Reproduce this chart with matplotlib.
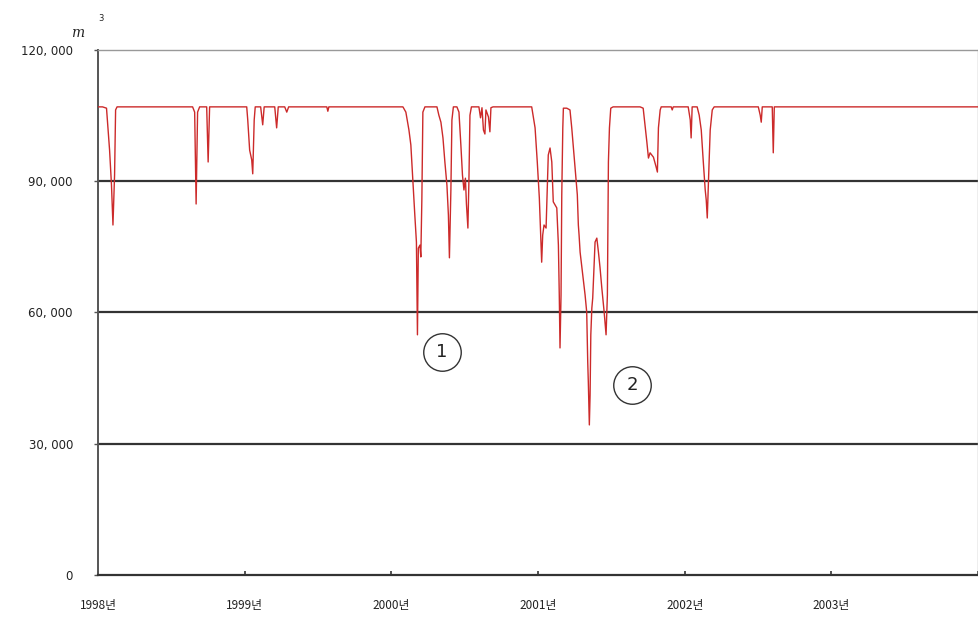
import matplotlib
matplotlib.use('Agg')
from matplotlib import pyplot as plt

plt.rcParams['font.family'] = ['Noto Sans CJK KR', 'DejaVu Sans']

# decimal year / storage volume (m3)
years = [
    1998.000, 1998.031, 1998.058, 1998.079, 1998.092, 1998.102, 1998.113, 1998.120, 1998.130,
    1998.645, 1998.659, 1998.669, 1998.679, 1998.693, 1998.741, 1998.751, 1998.761,
    1999.014, 1999.021, 1999.034, 1999.048, 1999.055, 1999.065, 1999.072,
    1999.109, 1999.123, 1999.133, 1999.205, 1999.218, 1999.229, 1999.273, 1999.287, 1999.300,
    1999.560, 1999.567, 1999.574,
    2000.079, 2000.099, 2000.120, 2000.133, 2000.147, 2000.160, 2000.171, 2000.178, 2000.184,
    2000.195, 2000.201, 2000.208, 2000.215, 2000.229,
    2000.311, 2000.324, 2000.338, 2000.352, 2000.365, 2000.379, 2000.389, 2000.396, 2000.406,
    2000.413, 2000.423, 2000.447, 2000.461, 2000.474, 2000.485, 2000.495, 2000.505, 2000.512,
    2000.522, 2000.529, 2000.536, 2000.546,
    2000.597, 2000.608, 2000.618, 2000.628, 2000.638, 2000.645, 2000.662, 2000.672, 2000.679,
    2000.693,
    2000.957, 2000.980, 2000.995, 2001.009, 2001.018, 2001.025, 2001.032, 2001.041, 2001.055,
    2001.070, 2001.082, 2001.094, 2001.104, 2001.128, 2001.139, 2001.145, 2001.150, 2001.157,
    2001.162, 2001.169, 2001.173, 2001.196, 2001.218, 2001.230, 2001.253, 2001.268, 2001.275,
    2001.280, 2001.287, 2001.305, 2001.321, 2001.332, 2001.339, 2001.343, 2001.350, 2001.355,
    2001.360, 2001.367, 2001.373, 2001.382, 2001.389, 2001.401, 2001.412, 2001.423, 2001.435,
    2001.451, 2001.464, 2001.473, 2001.480, 2001.487, 2001.496, 2001.512,
    2001.696, 2001.717, 2001.742, 2001.753, 2001.764, 2001.787, 2001.805, 2001.814, 2001.821,
    2001.833, 2001.840,
    2001.908, 2001.915, 2001.922,
    2002.024, 2002.038, 2002.044, 2002.051,
    2002.085, 2002.099, 2002.113, 2002.126, 2002.140, 2002.147, 2002.154, 2002.160, 2002.167,
    2002.174, 2002.188, 2002.201,
    2002.502, 2002.515, 2002.522, 2002.529, 2002.597, 2002.604, 2002.611,
    2004.000,
]
volumes = [
    107000, 107000, 106700, 97100, 89100, 80000, 91400, 106300, 107000,
    107000, 105800, 84800, 105800, 107000, 107000, 94400, 107000,
    107000, 104000, 97100, 94900, 91700, 104000, 107000,
    107000, 102900, 107000, 107000, 102200, 107000, 107000, 105800, 107000,
    107000, 106000, 107000,
    107000, 105800, 101700, 98300, 89800, 82300, 76100, 54900, 74700,
    75400, 72700, 85700, 105800, 107000,
    107000, 105100, 103500, 99900, 94400, 89100, 82300, 72500, 88000,
    104000, 107000, 107000, 105800, 98300, 91400, 88000, 90700, 84800,
    79300, 90300, 105100, 107000,
    107000, 104500, 106800, 101700, 100800, 106300, 104700, 101300, 106800,
    107000,
    107000, 102200, 94400, 86200, 77700, 71500, 77700, 80000, 79300,
    96000, 97600, 94400, 85300, 83900, 75400, 64000, 51900, 64000,
    86900, 102200, 106700, 106700, 106300, 102200, 93000, 86900, 80000,
    77700, 73800, 68600, 64000, 60100, 48700, 44100, 34300, 41100,
    54900, 61000, 63300, 70200, 76100, 77000, 73800, 70200, 65600,
    60100, 54900, 64000, 94400, 102200, 106700, 107000,
    107000, 106700, 99000, 95300, 96500, 95500, 93300, 92100, 102200,
    106300, 107000,
    107000, 106300, 107000,
    107000, 104000, 99900, 107000,
    107000, 105100, 101700, 94900, 88000, 85700, 81600, 88000, 94900,
    101700, 106300, 107000,
    107000, 105100, 103500, 107000, 107000, 96500, 107000,
    107000,
]

tick_years = [1998, 1999, 2000, 2001, 2002, 2003]
tick_labels = ['1998년', '1999년', '2000년', '2001년', '2002년', '2003년']
y_ticks = [0, 30000, 60000, 90000, 120000]
y_labels = ['0', '30, 000', '60, 000', '90, 000', '120, 000']

# circled markers (label, year, volume)
marks = [('1', 2000.345, 51000), ('2', 2001.642, 43400)]

fig = plt.figure(figsize=(9.79, 6.18), dpi=100)
ax = fig.add_axes([0.1001, 0.0696, 0.8989, 0.8495])

# horizontal grid lines
for yv in y_ticks[1:-1]:
    ax.axhline(yv, color='#333333', linewidth=1.6, zorder=1)

ax.plot(years, volumes, color='#cc2a2a', linewidth=1.0, zorder=3)

for label, xm, ym in marks:
    ax.plot([xm], [ym], marker='o', markersize=27, markerfacecolor='white',
            markeredgecolor='#333333', markeredgewidth=1.0, zorder=4)
    ax.text(xm, ym, label, ha='center', va='center', fontsize=13,
            family='DejaVu Sans', color='#222222', zorder=5)

ax.set_xlim(1998, 2004)
ax.set_ylim(0, 120000)
ax.set_xticks(tick_years + [2004])
ax.set_xticklabels(tick_labels + [''], fontsize=8.5, color='#222222')
ax.set_yticks(y_ticks)
ax.set_yticklabels(y_labels, fontsize=8.5, color='#222222', family='DejaVu Sans')
ax.tick_params(axis='x', direction='in', length=3, width=1.2, pad=17, colors='#333333',
               labelcolor='#222222')
ax.tick_params(axis='y', direction='out', length=3, width=1.0, pad=15, colors='#555555',
               labelcolor='#222222')

ax.spines['left'].set_color('#555555')
ax.spines['left'].set_linewidth(1.4)
ax.spines['bottom'].set_color('#333333')
ax.spines['bottom'].set_linewidth(1.6)
ax.spines['top'].set_color('#999999')
ax.spines['top'].set_linewidth(1.0)
ax.spines['right'].set_color('#aaaaaa')
ax.spines['right'].set_linewidth(1.0)

# unit label
fig.text(0.079, 0.946, 'm', fontsize=10, style='italic', family='DejaVu Serif',
         ha='center', va='center', color='#222222')
fig.text(0.103, 0.970, '3', fontsize=6, family='DejaVu Sans',
         ha='center', va='center', color='#222222')

fig.savefig('out.png', dpi=100)
